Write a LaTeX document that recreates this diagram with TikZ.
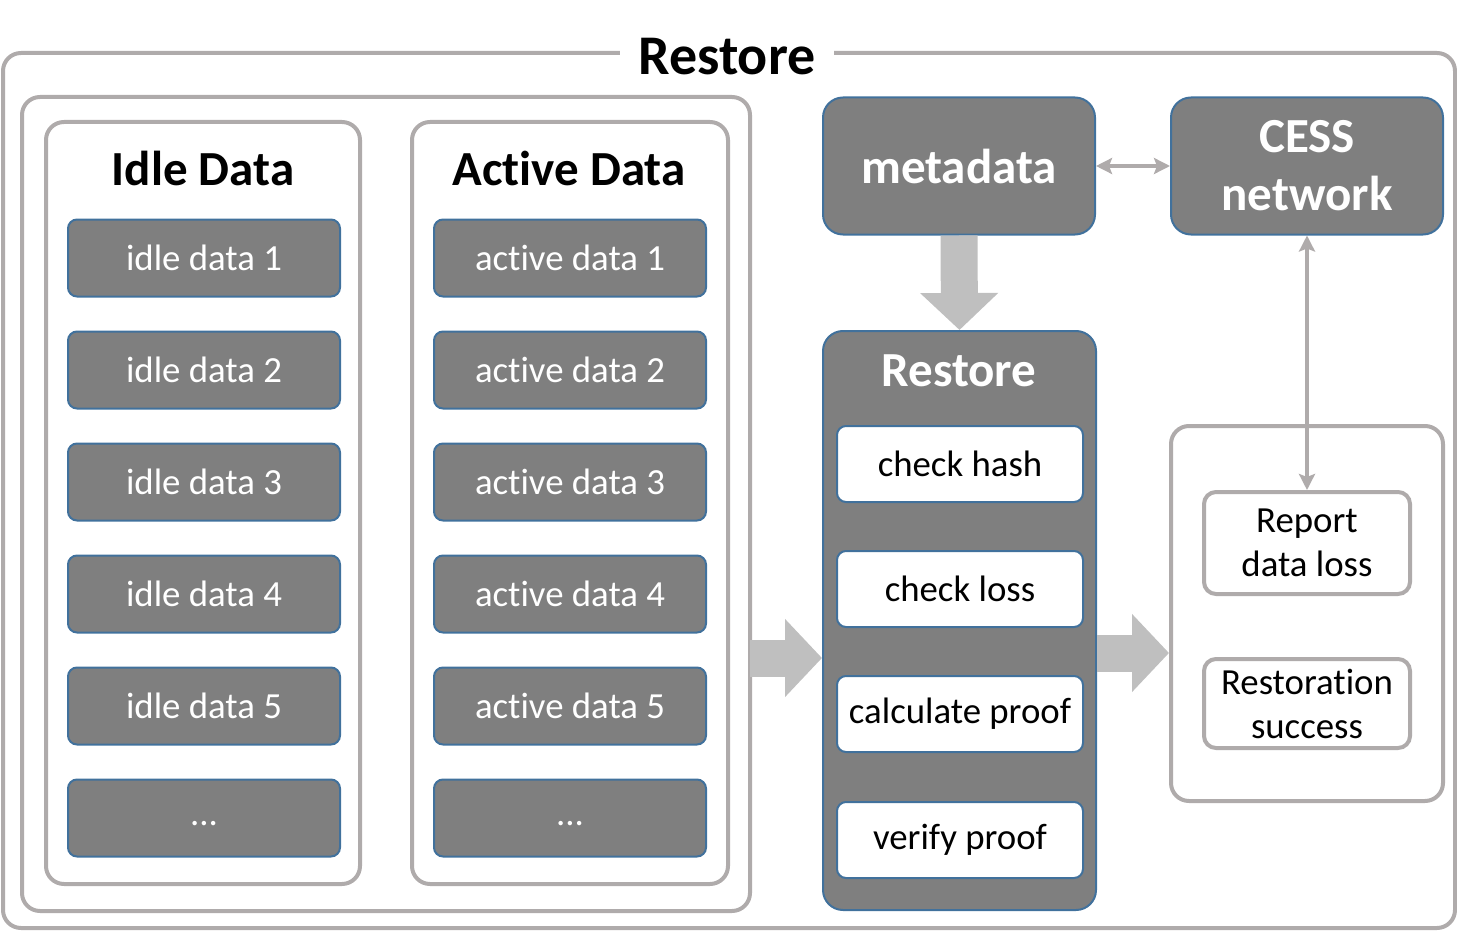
\documentclass[tikz,border=0pt]{standalone}
\usepackage{fontspec}
\setmainfont{Carlito}[Ligatures={NoCommon,NoRequired}]
\usepackage{tikz}
\usetikzlibrary{arrows.meta,positioning}
\definecolor{framegray}{RGB}{175,171,171}
\definecolor{boxgray}{RGB}{127,127,127}
\definecolor{boxblue}{RGB}{65,113,156}
\definecolor{arrowgray}{RGB}{191,191,191}
\tikzset{
  frame/.style={draw=framegray, line width=2pt, rounded corners=9pt},
  datablock/.style={rectangle, draw=boxblue, fill=boxgray, line width=1pt, rounded corners=4.5pt,
    minimum width=136pt, minimum height=38.5pt, text=white, font=\fontsize{18.4}{22}\selectfont},
  stepbox/.style={rectangle, draw=boxblue, fill=white, line width=1pt, rounded corners=4.5pt,
    minimum width=123pt, minimum height=38pt, font=\fontsize{18.4}{22}\selectfont},
  darkbox/.style={rectangle, draw=boxblue, fill=boxgray, line width=1pt, rounded corners=10pt,
    minimum width=136pt, minimum height=68.5pt, text=white, align=center,
    font=\bfseries\fontsize{24.5}{29}\selectfont},
  resultbox/.style={rectangle, draw=framegray, fill=white, line width=2pt, rounded corners=6pt,
    minimum width=103pt, align=center, font=\fontsize{18.4}{22}\selectfont},
  heading/.style={font=\bfseries\fontsize{24.5}{29}\selectfont},
  bigarrow/.style={draw=arrowgray, line width=18.5pt, -{Triangle[length=18.5pt,width=38pt]}},
  link/.style={draw=framegray, line width=2pt, {Stealth[length=8pt,width=8pt,inset=1.5pt]}-{Stealth[length=8pt,width=8pt,inset=1.5pt]}}
}
\begin{document}
\begin{tikzpicture}[x=0.5pt, y=-0.5pt]
  \useasboundingbox (0,0) rectangle (1457,931);

  % frames
  \draw[frame] (3,53) rectangle (1455,928);
  \node[fill=white, inner xsep=9pt, font=\bfseries\fontsize{28}{33}\selectfont] (title) at (727,57) {Restore};
  \draw[frame] (22,97) rectangle (750,911);
  \draw[frame] (46,122) rectangle (360,884);
  \draw[frame] (412,122) rectangle (728,884);

  % data columns
  \node[heading] (idlehead) at (203,168) {Idle Data};
  \node[heading] (activehead) at (569,168) {Active Data};
  \foreach \i/\y in {1/258,2/370,3/482,4/594,5/706} {
    \node[datablock] (idle\i) at (204,\y) {idle data \i};
    \node[datablock] (active\i) at (570,\y) {active data \i};
  }
  \node[datablock, text height=1.6ex] (idle6) at (204,818) {...};
  \node[datablock, text height=1.6ex] (active6) at (570,818) {...};

  % metadata and network
  \node[darkbox] (metadata) at (959,166) {metadata};
  \node[darkbox] (cess) at (1307,166) {CESS\\network};

  % restore steps
  \node[rectangle, draw=boxblue, fill=boxgray, line width=1pt, rounded corners=10pt,
    minimum width=136.5pt, minimum height=289.5pt] (restore) at (959.5,620.5) {};
  \node[heading, text=white] (restorehead) at (959,371) {Restore};
  \node[stepbox] (hash) at (960,464) {check hash};
  \node[stepbox] (loss) at (960,589) {check loss};
  \node[stepbox] (calc) at (960,714) {calculate proof};
  \node[stepbox] (verify) at (960,840) {verify proof};

  % outcome
  \node[rectangle, draw=framegray, fill=white, line width=2pt, rounded corners=9pt,
    minimum width=136pt, minimum height=187.5pt] (outcome) at (1307,613.5) {};
  \node[resultbox, minimum height=51pt] (report) at (1307,543) {Report\\data loss};
  \node[resultbox, minimum height=44.5pt] (success) at (1307,703.5) {Restoration\\success};

  % arrows
  \coordinate (feed) at (750,658);
  \draw[bigarrow] (feed) -- (feed -| restore.west);
  \draw[bigarrow] (metadata.south) -- (restore.north);
  \draw[bigarrow] (restore.east |- 0,653) -- (outcome.west |- 0,653);
  \draw[link] (metadata.east) -- (cess.west);
  \draw[link] (cess.south) -- (report.north);
\end{tikzpicture}
\end{document}
